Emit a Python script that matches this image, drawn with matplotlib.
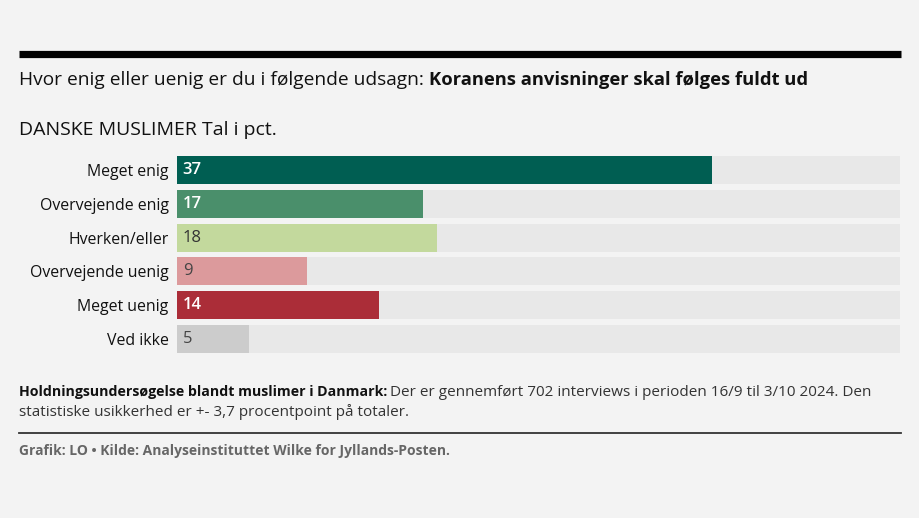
import matplotlib
matplotlib.use("Agg")
import matplotlib.pyplot as plt

plt.rcParams['font.family'] = ['Open Sans', 'DejaVu Sans']

categories = ["Meget enig", "Overvejende enig", "Hverken/eller",
              "Overvejende uenig", "Meget uenig", "Ved ikke"]
values = [37, 17, 18, 9, 14, 5]
colors = ["#005e52", "#4a8f6b", "#c3d99d", "#dc9a9c", "#ab2d38", "#cccccc"]
label_colors = ["white", "white", "#333333", "#444444", "white", "#444444"]
axis_max = 50

W, H = 920, 518
BG = "#f3f3f3"
fig = plt.figure(figsize=(W / 100, H / 100), dpi=100, facecolor=BG)


def px(x, y):
    return x / W, 1 - y / H


# top rule
fig.add_artist(plt.Line2D([19 / W, 901 / W], [1 - 53.5 / H] * 2, color="black", lw=5.2,
                          solid_capstyle="butt"))

# title (regular + bold part)
t1 = fig.text(*px(19, 80), "Hvor enig eller uenig er du i følgende udsagn: ",
              fontsize=13.8, va="center", color="#111111")
fig.canvas.draw()
bb = t1.get_window_extent()
fig.text(bb.x1 / W, 1 - 80 / H, "Koranens anvisninger skal følges fuldt ud",
         fontsize=13.2, fontweight="bold", va="center", color="#111111")

fig.text(*px(19, 130), "DANSKE MUSLIMER Tal i pct.", fontsize=14, va="center", color="#111111")

# bars
top, bottom = 153.1, 355.9
ax = fig.add_axes([177 / W, 1 - bottom / H, (900 - 177) / W, (bottom - top) / H])
ax.set_facecolor(BG)
pos = range(len(categories))
ax.barh(pos, [axis_max] * len(values), height=0.83, color="#e8e8e8")
ax.barh(pos, values, height=0.83, color=colors)
for i, v in enumerate(values):
    ax.text(0.4, i, str(v), va="center", ha="left", fontsize=12, color=label_colors[i],
            fontweight="semibold" if label_colors[i] == "white" else "normal")
ax.set_xlim(0, axis_max)
ax.set_ylim(len(values) - 0.5, -0.5)
ax.set_yticks(list(pos))
ax.set_yticklabels(categories, fontsize=11.4, color="#111111")
ax.tick_params(axis="y", length=0, pad=6)
ax.set_xticks([])
for s in ax.spines.values():
    s.set_visible(False)

# note
n1 = fig.text(*px(19, 392), "Holdningsundersøgelse blandt muslimer i Danmark:",
              fontsize=10.2, fontweight="bold", va="center", color="#111111")
fig.canvas.draw()
bb = n1.get_window_extent()
fig.text(bb.x1 / W + 3 / W, 1 - 392 / H,
         "Der er gennemført 702 interviews i perioden 16/9 til 3/10 2024. Den",
         fontsize=11, va="center", color="#333333")
fig.text(*px(19, 412), "statistiske usikkerhed er +- 3,7 procentpoint på totaler.",
         fontsize=11, va="center", color="#333333")

fig.add_artist(plt.Line2D([19 / W, 901 / W], [1 - 433 / H] * 2, color="#333333", lw=1.3))

fig.text(*px(19, 451), "Grafik: LO • Kilde: Analyseinstituttet Wilke for Jyllands-Posten.",
         fontsize=10, fontweight="bold", va="center", color="#666666")

fig.savefig("out.png", dpi=100, facecolor=BG)
